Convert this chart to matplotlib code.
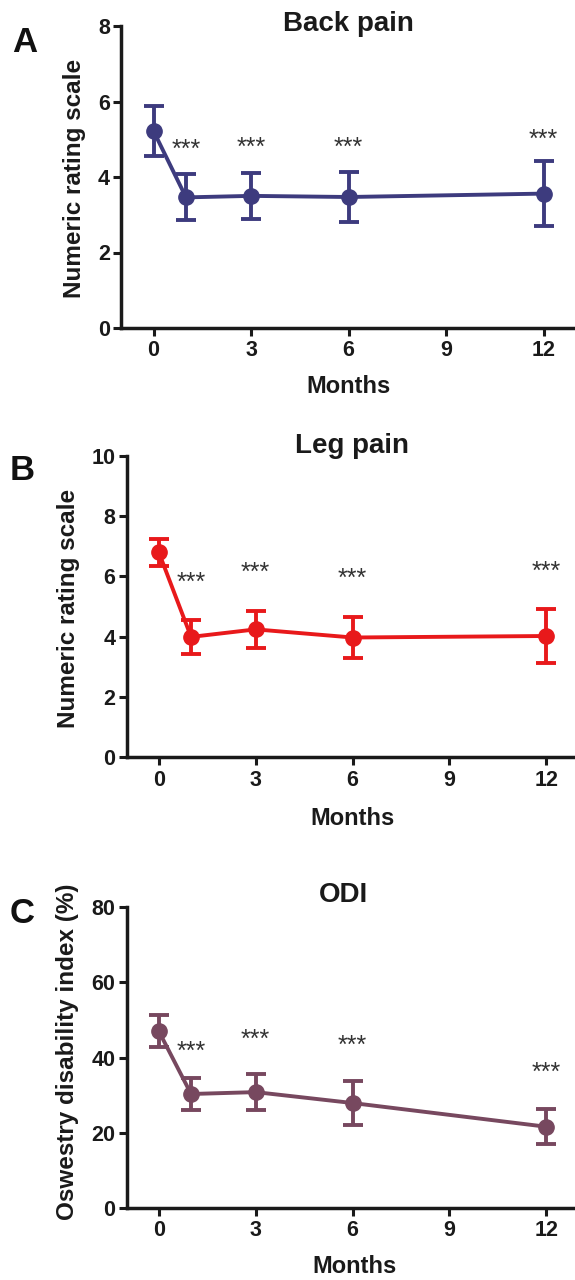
import matplotlib.pyplot as plt

plt.rcParams['font.family'] = ['Liberation Sans', 'DejaVu Sans']
plt.rcParams['font.weight'] = 'bold'

months = [0, 1, 3, 6, 12]
xticks = [0, 3, 6, 9, 12]

# A - back pain (NRS)
back_mean = [5.22, 3.46, 3.50, 3.47, 3.56]
back_err = [0.67, 0.61, 0.61, 0.65, 0.86]
back_star_y = [4.71, 4.76, 4.76, 4.98]

# B - leg pain (NRS)
leg_mean = [6.80, 3.99, 4.24, 3.97, 4.02]
leg_err = [0.45, 0.57, 0.62, 0.68, 0.90]
leg_star_y = [5.77, 6.11, 5.91, 6.16]

# C - ODI (%)
odi_mean = [47.0, 30.3, 30.8, 27.9, 21.6]
odi_err = [4.2, 4.3, 4.8, 5.8, 4.7]
odi_star_y = [41.6, 44.7, 43.0, 36.0]

W, H = 575, 1280
INK = '#1a1a1a'


def fx(px):
    return px / W


def fy(px):
    return 1 - px / H


def rect(left, right, top, bottom):
    return [left / W, 1 - bottom / H, (right - left) / W, (bottom - top) / H]


def panel(ax, mean, err, star_y, color, ylim, yticks, xright, ylabel, title, letter, lay):
    ax.errorbar(months, mean, yerr=err, color=color, lw=2.8, elinewidth=2.8,
                capsize=7, capthick=2.8, marker='o', ms=11, zorder=3)
    for m, y in zip(months[1:], star_y):
        ax.text(m, y, '***', ha='center', va='center', fontsize=18,
                color='#333333', fontweight='normal')
    ax.set_xlim(-1, xright)
    ax.set_ylim(*ylim)
    ax.set_xticks(xticks)
    ax.set_yticks(yticks)
    for s in ['top', 'right']:
        ax.spines[s].set_visible(False)
    for s in ['left', 'bottom']:
        ax.spines[s].set_linewidth(2.5)
        ax.spines[s].set_color(INK)
    ax.tick_params(width=2.2, length=6, labelsize=15.5, colors=INK)
    ax.tick_params(axis='x', pad=3)
    ax.tick_params(axis='y', pad=2)

    # axis labels, title and panel letter placed where the reference has them
    fig.text(fx(lay['xl'][0]), fy(lay['xl'][1]), 'Months', ha='center',
             va='baseline', fontsize=17, fontweight='bold', color=INK)
    fig.text(fx(lay['yl'][0]), fy(lay['yl'][1]), ylabel, rotation=90,
             ha='center', va='center', fontsize=17.5, fontweight='bold', color=INK)
    fig.text(fx(lay['t'][0]), fy(lay['t'][1]), title, ha='center',
             va='baseline', fontsize=20, fontweight='bold', color=INK)
    fig.text(fx(lay['l'][0]), fy(lay['l'][1]), letter, ha='left', va='top',
             fontsize=25, fontweight='bold', color='#111111')


fig = plt.figure(figsize=(5.75, 12.8), dpi=100)

axA = fig.add_axes(rect(121, 576, 26, 328))
panel(axA, back_mean, back_err, back_star_y, '#3d3b7e', (0, 8), [0, 2, 4, 6, 8], 13,
      'Numeric rating scale', 'Back pain', 'A',
      {'xl': (348, 393), 'yl': (75, 178), 't': (348, 31), 'l': (12, 26)})

axB = fig.add_axes(rect(126.5, 576, 456, 757))
panel(axB, leg_mean, leg_err, leg_star_y, '#e8191b', (0, 10), [0, 2, 4, 6, 8, 10], 12.92,
      'Numeric rating scale', 'Leg pain', 'B',
      {'xl': (352, 825), 'yl': (68, 608), 't': (352, 453), 'l': (10, 454)})

axC = fig.add_axes(rect(126.5, 576, 907, 1208))
panel(axC, odi_mean, odi_err, odi_star_y, '#77485f', (0, 80), [0, 20, 40, 60, 80], 12.92,
      'Oswestry disability index (%)', 'ODI', 'C',
      {'xl': (354, 1273), 'yl': (68, 1052), 't': (343, 902), 'l': (10, 897)})

fig.savefig('out.png', dpi=100)
